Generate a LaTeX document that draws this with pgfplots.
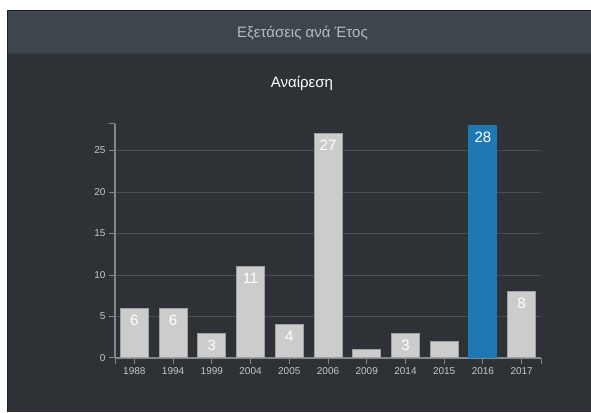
\documentclass[border=0pt]{standalone}
\usepackage{pgfplots}
\pgfplotsset{compat=1.18}
\usepackage{fontspec}
\setmainfont{Liberation Sans}
\definecolor{pageborder}{HTML}{1E2124}
\definecolor{bodybg}{HTML}{2E3236}
\definecolor{headbg}{HTML}{3E454D}
\definecolor{headline}{HTML}{33383E}
\definecolor{headtxt}{HTML}{B8BCC0}
\definecolor{gridc}{HTML}{4A4F55}
\definecolor{axisc}{HTML}{82878C}
\definecolor{ticktxt}{HTML}{C4C7CA}
\definecolor{barfill}{HTML}{CCCCCC}
\definecolor{baredge}{HTML}{A0A0A0}
\definecolor{barblue}{HTML}{1F77B4}
\begin{document}
\begin{tikzpicture}[x=1pt,y=1pt]
\fill[white] (0,0) rectangle (591,412);
\useasboundingbox (0,0) rectangle (591,412);
\fill[pageborder] (7,0) rectangle (591,401.5);
\fill[bodybg] (8,0) rectangle (591,400.5);
\fill[headbg] (8,358) rectangle (591,400.5);
\fill[headline] (8,357) rectangle (591,358.5);
\node[text=headtxt, font=\fontsize{15}{18}\selectfont] at (302.5,378.5) {Εξετάσεις ανά Έτος};
\node[text=white, font=\fontsize{15}{18}\selectfont] at (302,329) {Αναίρεση};
\begin{axis}[
  at={(115pt,54pt)}, anchor=south west,
  scale only axis, width=426pt, height=234pt,
  xmin=-0.5, xmax=10.5, ymin=0, ymax=28.2,
  axis x line*=bottom, axis y line*=left,
  axis line style={axisc, line width=1.2pt},
  xtick={0,...,10},
  xticklabels={1988,1994,1999,2004,2005,2006,2009,2014,2015,2016,2017},
  ytick={0,5,10,15,20,25},
  extra x ticks={-0.5,10.5}, extra x tick labels={},
  extra y ticks={28.2}, extra y tick labels={},
  extra tick style={grid=none},
  tick align=outside, major tick length=6pt,
  tick style={axisc, line width=1pt},
  ymajorgrids, grid style={gridc, line width=1pt},
  ticklabel style={text=ticktxt, font=\fontsize{10}{12}\selectfont},
  /pgf/number format/assume math mode=true,
  ybar, bar width=28pt,
  nodes near coords,
  nodes near coords style={anchor=north, text=white, font=\fontsize{15}{18}\selectfont, inner sep=0pt, yshift=-6pt},
  axis on top=false,
  clip=false,
]
\addplot[bar shift=0pt, fill=barfill, draw=baredge, line width=1pt] coordinates {(0,6) (1,6) (2,3) (3,11) (4,4) (5,27) (7,3) (10,8)};
\addplot[bar shift=0pt, fill=barfill, draw=baredge, line width=1pt, nodes near coords={}] coordinates {(6,1) (8,2)};
\addplot[bar shift=0pt, fill=barblue, draw=barblue, line width=0pt] coordinates {(9,28)};
\end{axis}
\end{tikzpicture}
\end{document}
